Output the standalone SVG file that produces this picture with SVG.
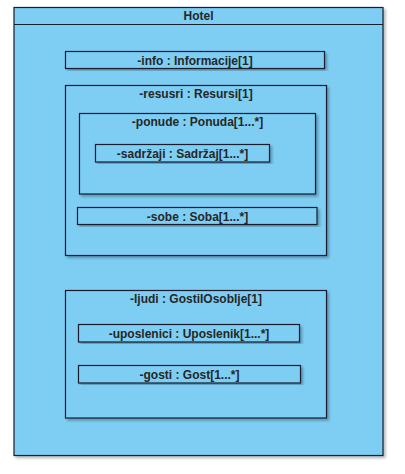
<svg xmlns="http://www.w3.org/2000/svg" width="405" height="474" viewBox="0 0 405 474">
<defs>
<filter id="sh" x="-10%" y="-10%" width="120%" height="120%">
<feGaussianBlur in="SourceAlpha" stdDeviation="1.5"/>
<feOffset dx="2" dy="2" result="b"/>
<feComponentTransfer><feFuncA type="linear" slope="0.3"/></feComponentTransfer>
<feMerge><feMergeNode/><feMergeNode in="SourceGraphic"/></feMerge>
</filter>
</defs>
<style>
.box{fill:#7ecef4;stroke:#1a1f2e;stroke-width:1.2}
.t{font-family:"Liberation Sans",Arial,sans-serif;font-size:12px;font-weight:bold;fill:#262626;text-anchor:middle}
</style>
<rect width="405" height="474" fill="#ffffff"/>
<g id="hotel">
<rect class="box" x="14" y="7.5" width="369" height="448" filter="url(#sh)"/>
<line x1="14" y1="24.5" x2="383" y2="24.5" stroke="#1a1f2e" stroke-width="1.2"/>
<text class="t" x="198.5" y="20">Hotel</text>
</g>
<g id="info">
<rect class="box" x="65.5" y="51.5" width="259" height="17" filter="url(#sh)"/>
<text class="t" x="195" y="64.5">-info : Informacije[1]</text>
</g>
<g id="resusri">
<rect class="box" x="65.5" y="85.5" width="261" height="170" filter="url(#sh)"/>
<text class="t" x="196" y="97.5">-resusri : Resursi[1]</text>
</g>
<g id="ponude">
<rect class="box" x="79.5" y="113.5" width="236" height="80.5" filter="url(#sh)"/>
<text class="t" x="197.5" y="125.5">-ponude : Ponuda[1...*]</text>
</g>
<g id="sadrzaji">
<rect class="box" x="95.5" y="144.5" width="174" height="17.5" filter="url(#sh)"/>
<text class="t" x="182.5" y="157.5">-sadržaji : Sadržaj[1...*]</text>
</g>
<g id="sobe">
<rect class="box" x="77.5" y="207.5" width="239.5" height="17" filter="url(#sh)"/>
<text class="t" x="197.5" y="220.5">-sobe : Soba[1...*]</text>
</g>
<g id="ljudi">
<rect class="box" x="65.5" y="290.5" width="261" height="127.5" filter="url(#sh)"/>
<text class="t" x="196" y="303">-ljudi : GostiIOsoblje[1]</text>
</g>
<g id="uposlenici">
<rect class="box" x="78.5" y="324.5" width="221" height="17.5" filter="url(#sh)"/>
<text class="t" x="189" y="337.5">-uposlenici : Uposlenik[1...*]</text>
</g>
<g id="gosti">
<rect class="box" x="78.5" y="365.5" width="222" height="17.5" filter="url(#sh)"/>
<text class="t" x="189.5" y="378.5">-gosti : Gost[1...*]</text>
</g>
<g id="connectors"></g>
</svg>
